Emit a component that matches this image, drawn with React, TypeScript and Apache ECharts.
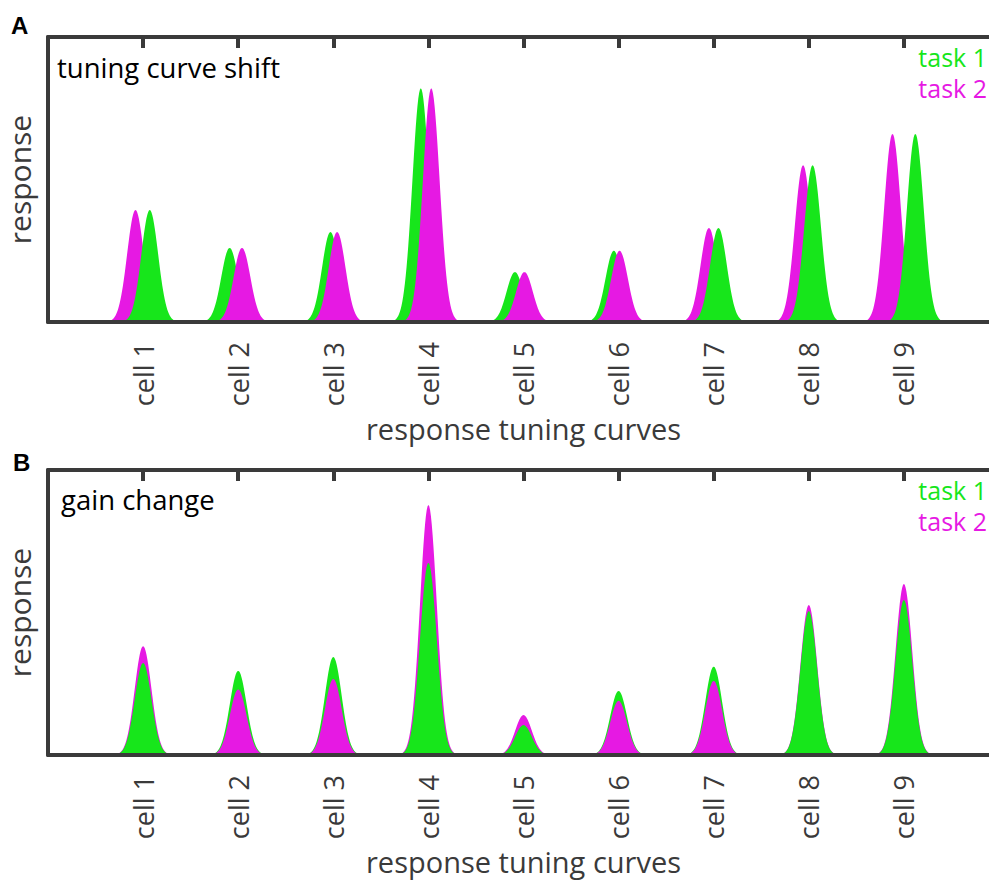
import React, { useEffect, useRef } from "react";
import * as echarts from "echarts";

// ---- data ----
const cellLabels = ["cell 1", "cell 2", "cell 3", "cell 4", "cell 5", "cell 6", "cell 7", "cell 8", "cell 9"];

// Panel A: tuning curve shift (peak centre in cell units, peak height as fraction of axis)
const shiftTask1Centers = [1.07, 1.91, 2.97, 3.92, 4.91, 5.95, 7.05, 8.04, 9.12];
const shiftTask1Heights = [0.393, 0.26, 0.316, 0.82, 0.175, 0.25, 0.33, 0.55, 0.66];
const shiftTask2Centers = [0.92, 2.04, 3.04, 4.03, 5.01, 6.01, 6.95, 7.94, 8.88];
const shiftTask2Heights = [0.393, 0.26, 0.316, 0.82, 0.175, 0.25, 0.33, 0.55, 0.66];

// Panel B: gain change
const gainTask1Centers = [1, 2, 3, 4, 5, 6, 7, 8, 9];
const gainTask1Heights = [0.323, 0.295, 0.344, 0.674, 0.105, 0.225, 0.31, 0.505, 0.544];
const gainTask2Centers = [1, 2, 3, 4, 5, 6, 7, 8, 9];
const gainTask2Heights = [0.382, 0.23, 0.267, 0.877, 0.14, 0.19, 0.26, 0.526, 0.6];

const GREEN = "#17e61b";
const MAGENTA = "#e619e3";
const AXIS = "#3a3a3a";
const FONT = "'Open Sans', 'Noto Sans', sans-serif";
const SIGMA = 0.088; // curve width (style)

function bellItem(color: string) {
  return (params: any, api: any) => {
    const c = api.value(0);
    const h = api.value(1);
    const z2 = api.value(2);
    const pts: number[][] = [];
    const n = 80;
    for (let i = 0; i <= n; i++) {
      const x = c - 4 * SIGMA + (8 * SIGMA * i) / n;
      const d = (x - c) / SIGMA;
      pts.push(api.coord([x, h * Math.exp(-0.5 * d * d)]));
    }
    return {
      type: "polygon",
      z2,
      shape: { points: pts },
      style: { fill: color, stroke: null },
    };
  };
}

function buildData(centers: number[], heights: number[], otherC: number[], otherH: number[], mode: "shift" | "gain") {
  return centers.map((c, i) => {
    let z2 = 1;
    if (mode === "shift") z2 = c > otherC[i] ? 2 : 1;
    else z2 = heights[i] < otherH[i] ? 2 : 1;
    return [c, heights[i], z2];
  });
}

export default function App() {
  const ref = useRef<HTMLDivElement>(null);
  useEffect(() => {
    document.body.style.margin = "0";
    const chart = echarts.init(ref.current!, null, { renderer: "svg" });
    const grids = [
      { left: 48, top: 37, width: 951, height: 285, outerBoundsMode: "none", containLabel: false },
      { left: 48, top: 470, width: 951, height: 285, outerBoundsMode: "none", containLabel: false },
    ];
    const xAxes: any[] = [];
    const yAxes: any[] = [];
    [0, 1].forEach((g) => {
      xAxes.push({
        type: "value",
        gridIndex: g,
        min: 0,
        max: 10,
        interval: 1,
        position: "bottom",
        z: 5,
        axisLine: { show: true, lineStyle: { color: AXIS, width: 4 } },
        axisTick: { show: false },
        splitLine: { show: false },
        axisLabel: {
          rotate: 90,
          margin: 20,
          color: AXIS,
          fontFamily: FONT,
          fontSize: 27,
          formatter: (v: number) => (v >= 1 && v <= 9 ? cellLabels[v - 1] : ""),
        },
        name: "response tuning curves",
        nameLocation: "middle",
        nameGap: 92,
        nameTextStyle: { color: AXIS, fontFamily: FONT, fontSize: 29 },
      });
      xAxes.push({
        type: "value",
        gridIndex: g,
        min: 0,
        max: 10,
        interval: 1,
        position: "top",
        z: 5,
        axisLine: { show: true, lineStyle: { color: AXIS, width: 4 } },
        axisTick: { show: true, inside: true, length: 11, lineStyle: { color: AXIS, width: 4 } },
        splitLine: { show: false },
        axisLabel: { show: false },
      });
      yAxes.push({
        type: "value",
        gridIndex: g,
        min: 0,
        max: 1,
        z: 5,
        axisLine: { show: true, lineStyle: { color: AXIS, width: 4 } },
        axisTick: { show: false },
        axisLabel: { show: false },
        splitLine: { show: false },
        name: "response",
        nameLocation: "middle",
        nameRotate: 90,
        nameGap: 14,
        nameTextStyle: { color: AXIS, fontFamily: FONT, fontSize: 30 },
      });
    });

    const series: any[] = [
      {
        name: "task 1",
        type: "custom",
        xAxisIndex: 0,
        yAxisIndex: 0,
        renderItem: bellItem(GREEN),
        data: buildData(shiftTask1Centers, shiftTask1Heights, shiftTask2Centers, shiftTask2Heights, "shift"),
      },
      {
        name: "task 2",
        type: "custom",
        xAxisIndex: 0,
        yAxisIndex: 0,
        renderItem: bellItem(MAGENTA),
        data: buildData(shiftTask2Centers, shiftTask2Heights, shiftTask1Centers, shiftTask1Heights, "shift"),
      },
      {
        name: "task 1",
        type: "custom",
        xAxisIndex: 2,
        yAxisIndex: 1,
        renderItem: bellItem(GREEN),
        data: buildData(gainTask1Centers, gainTask1Heights, gainTask2Centers, gainTask2Heights, "gain"),
      },
      {
        name: "task 2",
        type: "custom",
        xAxisIndex: 2,
        yAxisIndex: 1,
        renderItem: bellItem(MAGENTA),
        data: buildData(gainTask2Centers, gainTask2Heights, gainTask1Centers, gainTask1Heights, "gain"),
      },
    ];

    // y is the visual middle of the text line
    const txt = (text: string, x: number, y: number, fill: string, size: number, align = "left", weight = "normal", family = FONT) => ({
      type: "text",
      x,
      y,
      z: 10,
      style: { text, fill, fontSize: size, lineHeight: size, fontFamily: family, fontWeight: weight, align, verticalAlign: "middle" },
    });

    chart.setOption({
      animation: false,
      backgroundColor: "#ffffff",
      grid: grids,
      xAxis: xAxes,
      yAxis: yAxes,
      series,
      graphic: [
        txt("A", 11, 25, "#000", 24, "left", "bold", "Arial, 'Liberation Sans', sans-serif"),
        txt("B", 13, 462, "#000", 24, "left", "bold", "Arial, 'Liberation Sans', sans-serif"),
        txt("tuning curve shift", 57, 67, "#000", 27.5),
        txt("gain change", 61, 499, "#000", 27.5),
        txt("task 1", 987, 57, GREEN, 25, "right"),
        txt("task 2", 987, 88, MAGENTA, 25, "right"),
        txt("task 1", 987, 490, GREEN, 25, "right"),
        txt("task 2", 987, 521, MAGENTA, 25, "right"),
      ],
    });
    return () => chart.dispose();
  }, []);
  return <div ref={ref} style={{ width: 989, height: 880 }} />;
}
